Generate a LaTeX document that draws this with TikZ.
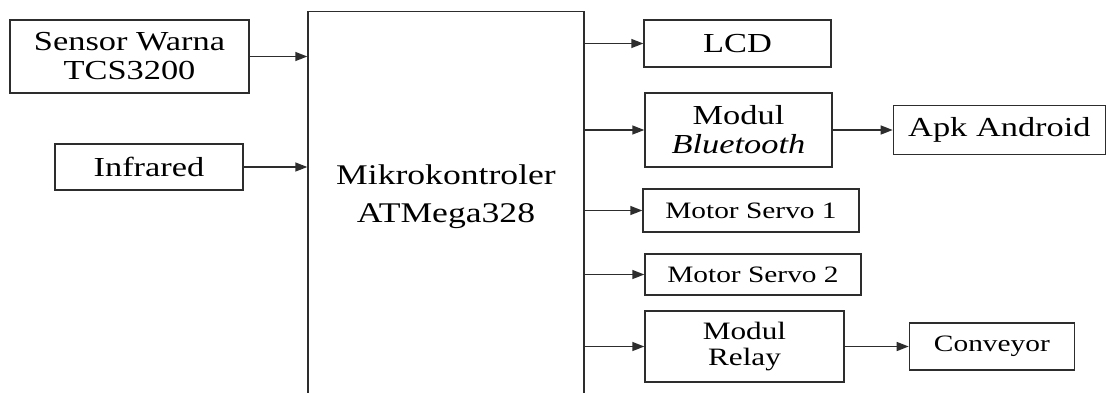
\documentclass[tikz,border=0pt]{standalone}
\usepackage{fontspec}
\setmainfont{Liberation Serif}
\usepackage{tikz}
\usetikzlibrary{arrows.meta,positioning}
\definecolor{linec}{RGB}{45,45,45}
\newcommand{\wtxt}[1]{\scalebox{1.25}[1]{#1}}

\begin{document}
\begin{tikzpicture}[x=1pt, y=-1pt, >={Triangle[length=12pt, width=9pt]},
  blok/.style={draw=linec, line width=1.4pt, inner sep=0pt, align=center, font=\fontsize{27.5}{29}\selectfont},
  small/.style={font=\fontsize{23.5}{26}\selectfont},
  conn/.style={->, draw=linec, line width=1.4pt}]
  \clip (0,0) rectangle (1106,392);
  % inputs
  \node[blok, minimum width=239, minimum height=73] (sensor) at (129.5,56.5) {\wtxt{Sensor Warna}\\\wtxt{TCS3200}};
  \node[blok, minimum width=188, minimum height=46] (ir) at (149,167) {\wtxt{Infrared}};
  % microcontroller (runs past the lower edge)
  \node[blok, minimum width=276, minimum height=420, anchor=north] (mcu) at (446,11) {};
  \node[align=center, font=\fontsize{28.5}{38}\selectfont] (mcutext) at (446,197) {\wtxt{Mikrokontroler}\\\wtxt{ATMega328}};
  % outputs
  \node[blok, minimum width=187, minimum height=47] (lcd) at (737.5,43.5) {\wtxt{LCD}};
  \node[blok, minimum width=187, minimum height=74] (bt) at (738.5,130) {\wtxt{Modul}\\\wtxt{\textit{Bluetooth}}};
  \node[blok, minimum width=212, minimum height=49, right=60 of bt] (apk) {\wtxt{Apk Android}};
  \node[blok, small, minimum width=216, minimum height=43] (servoa) at (751,210.5) {\wtxt{Motor Servo 1}};
  \node[blok, small, minimum width=216, minimum height=41] (servob) at (753,274.5) {\wtxt{Motor Servo 2}};
  \node[blok, minimum width=199, minimum height=71, font=\fontsize{25}{26}\selectfont] (relay) at (744.5,346.5) {\wtxt{Modul}\\\wtxt{Relay}};
  \node[blok, small, minimum width=165, minimum height=47, right=64 of relay] (conv) {\wtxt{Conveyor}};
  % connectors
  \draw[conn] (sensor.east) -- (sensor.east -| mcu.west);
  \draw[conn] (ir.east) -- (ir.east -| mcu.west);
  \draw[conn] (mcu.east |- lcd.west) -- (lcd.west);
  \draw[conn] (mcu.east |- bt.west) -- (bt.west);
  \draw[conn] (mcu.east |- servoa.west) -- (servoa.west);
  \draw[conn] (mcu.east |- servob.west) -- (servob.west);
  \draw[conn] (mcu.east |- relay.west) -- (relay.west);
  \draw[conn] (bt) -- (apk);
  \draw[conn] (relay) -- (conv);
\end{tikzpicture}
\end{document}
